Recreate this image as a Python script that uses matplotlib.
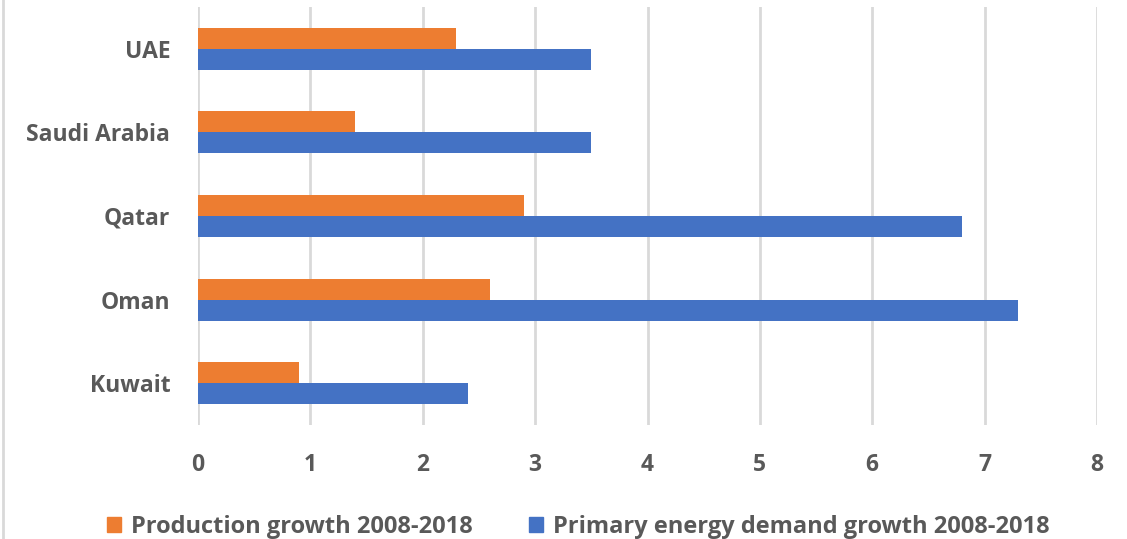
import numpy as np
import matplotlib.pyplot as plt
from matplotlib.patches import Patch

countries = ['Kuwait', 'Oman', 'Qatar', 'Saudi Arabia', 'UAE']
production = [0.9, 2.6, 2.9, 1.4, 2.3]
demand = [2.4, 7.3, 6.8, 3.5, 3.5]
series_names = ['Production growth 2008-2018', 'Primary energy demand growth 2008-2018']

orange = '#ED7D31'
blue = '#4472C4'
text_gray = '#595959'

plt.rcParams['font.family'] = ['Open Sans', 'DejaVu Sans']
plt.rcParams['font.weight'] = 'bold'

fig = plt.figure(figsize=(11.27, 5.39), dpi=100)
ax = fig.add_axes([198 / 1127, 1 - 425 / 539, 899 / 1127, 418 / 539])

y = np.arange(len(countries))
h = 0.25
ax.barh(y + h / 2, production, height=h, color=orange, zorder=3)
ax.barh(y - h / 2, demand, height=h, color=blue, zorder=3)

ax.set_xlim(0, 8)
ax.set_ylim(-0.5, 4.5)
ax.set_xticks(range(0, 9))
ax.set_yticks(y)
ax.set_yticklabels(countries)
ax.tick_params(axis='both', length=0, labelsize=16.5, colors=text_gray)
ax.tick_params(axis='x', pad=20)
ax.tick_params(axis='y', pad=20)
ax.grid(axis='x', color='#D9D9D9', linewidth=2, zorder=0)
for s in ax.spines.values():
    s.set_visible(False)

handles = [Patch(color=orange), Patch(color=blue)]
fig.legend(handles, series_names, loc='lower center', bbox_to_anchor=(0.513, -0.04),
           ncol=2, frameon=False, fontsize=17, labelcolor=text_gray,
           handlelength=0.6, handleheight=0.6, handletextpad=0.4, columnspacing=2.4)

# thin frame line on the left edge
fig.add_artist(plt.Line2D([3 / 1127, 3 / 1127], [0, 1], color='#D9D9D9', linewidth=2))

fig.savefig('out.png', dpi=100)
